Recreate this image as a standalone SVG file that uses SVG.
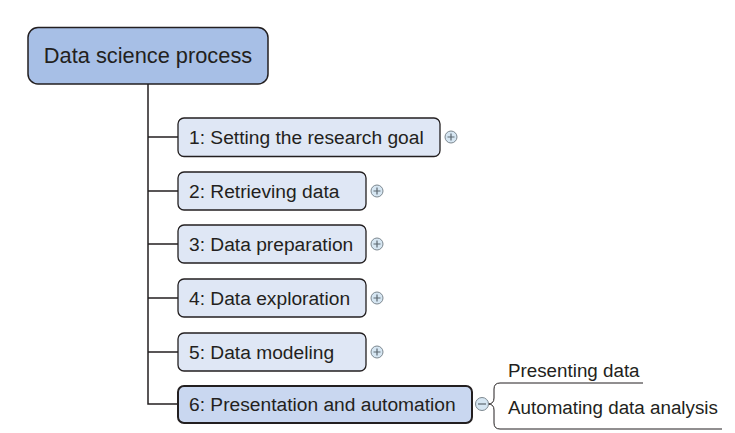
<svg xmlns="http://www.w3.org/2000/svg" width="735" height="433" viewBox="0 0 735 433">
  <style>
    text { font-family: "Liberation Sans", Arial, sans-serif; fill: #231f20; }
    .root { fill: #a7bfe6; stroke: #231f20; stroke-width: 1.5; }
    .topic { fill: #dfe7f5; stroke: #231f20; stroke-width: 1.3; }
    .topic.sel { fill: #c9d7f0; stroke-width: 2; }
    .lbl { font-size: 19.2px; }
    .sub { font-size: 18.8px; }
    .conn { fill: none; stroke: #231f20; stroke-width: 1.5; }
    .thin { fill: none; stroke: #231f20; stroke-width: 1; }
    .tog { fill: #d6e6f2; stroke: #7d8890; stroke-width: 1; }
    .tog-mark { stroke: #5c6870; stroke-width: 1.2; fill: none; }
  </style>
  <defs>
    <g id="plus">
      <circle class="tog" cx="0" cy="0" r="6"/>
      <path class="tog-mark" d="M-3.5 0H3.5M0 -3.5V3.5"/>
    </g>
    <g id="minus">
      <circle class="tog" cx="0" cy="0" r="6.5"/>
      <path class="tog-mark" d="M-4 0H4"/>
    </g>
  </defs>

  <rect width="735" height="433" fill="#ffffff"/>

  <!-- connectors -->
  <g id="connectors">
    <path class="conn" d="M148 84V404H178"/>
    <path class="conn" d="M148 137H178M148 191H178M148 244H178M148 298H178M148 352H178"/>
    <!-- bracket to the sub-topics -->
    <path class="thin" d="M643 383H500Q494 383 494 389V398Q494 404 488 404M488 404Q494 404 494 410V423Q494 429 500 429H722"/>
  </g>

  <g id="root">
    <rect class="root" x="28" y="27.5" width="240" height="56.5" rx="10"/>
    <text x="148" y="63" font-size="21.8" text-anchor="middle">Data science process</text>
  </g>

  <g id="t1">
    <rect class="topic" x="178" y="118" width="262" height="38.5" rx="6"/>
    <text class="lbl" x="189" y="144">1: Setting the research goal</text>
    <use href="#plus" x="451" y="137"/>
  </g>

  <g id="t2">
    <rect class="topic" x="178" y="172" width="188" height="38" rx="6"/>
    <text class="lbl" x="189" y="198">2: Retrieving data</text>
    <use href="#plus" x="377" y="191"/>
  </g>

  <g id="t3">
    <rect class="topic" x="178" y="225" width="188" height="38" rx="6"/>
    <text class="lbl" x="189" y="251">3: Data preparation</text>
    <use href="#plus" x="377" y="244"/>
  </g>

  <g id="t4">
    <rect class="topic" x="178" y="279" width="188" height="38" rx="6"/>
    <text class="lbl" x="189" y="305">4: Data exploration</text>
    <use href="#plus" x="377" y="298"/>
  </g>

  <g id="t5">
    <rect class="topic" x="178" y="333" width="188" height="38" rx="6"/>
    <text class="lbl" x="189" y="359">5: Data modeling</text>
    <use href="#plus" x="377" y="352"/>
  </g>

  <g id="t6">
    <rect class="topic sel" x="178" y="386" width="294" height="37" rx="6"/>
    <text class="lbl" x="189" y="411">6: Presentation and automation</text>
    <use href="#minus" x="482" y="404"/>
  </g>

  <g id="s1">
    <text class="sub" x="508" y="377">Presenting data</text>
  </g>

  <g id="s2">
    <text class="sub" x="508" y="414">Automating data analysis</text>
  </g>
</svg>
